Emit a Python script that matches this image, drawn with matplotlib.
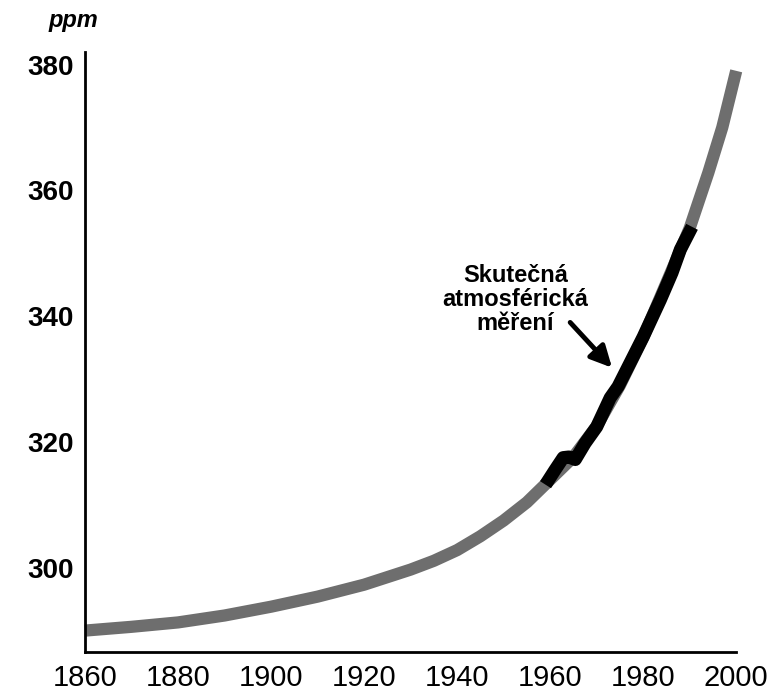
import matplotlib
matplotlib.use("Agg")
import matplotlib.pyplot as plt

plt.rcParams['font.family'] = ['Liberation Sans', 'DejaVu Sans']

# ice-core / reconstructed concentration (grey band)
years_est = [1860, 1870, 1880, 1890, 1900, 1910, 1920, 1930, 1935, 1940, 1945,
             1950, 1955, 1960, 1965, 1970, 1975, 1980, 1985, 1990, 1994, 1997, 2000]
ppm_est = [290.0, 290.6, 291.3, 292.4, 293.8, 295.4, 297.3, 299.7, 301.1, 302.8, 305.0,
           307.5, 310.4, 314.0, 317.6, 322.5, 329.0, 336.6, 345.3, 354.0, 362.8, 370.0, 379.0]

# actual atmospheric measurements (black)
years_meas = [1959, 1961, 1962.8, 1964, 1965.4, 1967.5, 1970, 1972.9, 1974.6,
              1977.2, 1980, 1983.7, 1986.2, 1988, 1990.5]
ppm_meas = [313.2, 315.5, 317.5, 317.6, 317.2, 319.8, 322.4, 327.0, 328.8,
            332.6, 336.7, 342.6, 346.9, 350.6, 354.2]

x_ticks = [1860, 1880, 1900, 1920, 1940, 1960, 1980, 2000]
y_ticks = [300, 320, 340, 360, 380]

fig = plt.figure(figsize=(7.78, 6.93), dpi=100)
ax = fig.add_axes([0.1093, 0.0592, 0.837, 0.8658])

ax.plot(years_est, ppm_est, color='#6e6e6e', lw=8.8, solid_capstyle='butt',
        solid_joinstyle='round', clip_on=False)
ax.plot(years_meas, ppm_meas, color='black', lw=9.4, solid_capstyle='butt',
        solid_joinstyle='round', clip_on=False)

ax.set_xlim(1860, 2000)
ax.set_ylim(286.6, 382)
ax.set_xticks(x_ticks)
ax.set_yticks(y_ticks)
ax.tick_params(axis='x', length=0, pad=9, labelsize=21)
ax.tick_params(axis='y', length=0, pad=8, labelsize=20)
for lab in ax.get_yticklabels():
    lab.set_fontweight('bold')

for side in ['top', 'right']:
    ax.spines[side].set_visible(False)
for side in ['left', 'bottom']:
    ax.spines[side].set_linewidth(2)

ax.text(1952.5, 342.6, 'Skutečná\natmosférická\nměření', ha='center', va='center',
        fontsize=17, fontweight='bold', linespacing=1.05)
ax.annotate('', xy=(1973.3, 331.8), xytext=(1964.3, 339.0),
            arrowprops=dict(arrowstyle='-|>', lw=3.5, color='black',
                            mutation_scale=32, shrinkA=0, shrinkB=0))

fig.text(0.094, 0.971, 'ppm', ha='center', va='center', fontsize=17,
         fontstyle='italic', fontweight='bold')

fig.savefig('out.png', dpi=100)
